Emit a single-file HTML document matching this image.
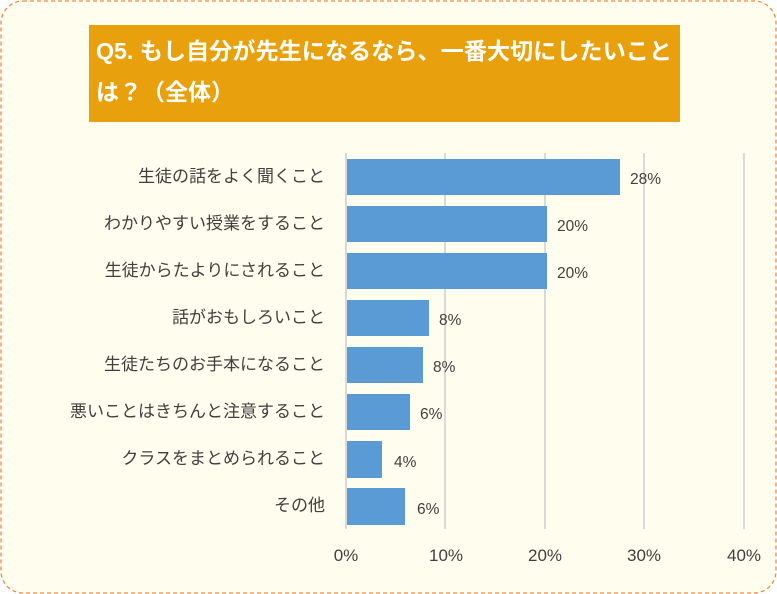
<!DOCTYPE html>
<html><head><meta charset="utf-8"><style>
body{margin:0;background:#fff;}
svg{display:block;}
text{font-family:"Liberation Sans","Noto Sans CJK JP",sans-serif;}
</style></head><body>
<svg width="777" height="594" xmlns="http://www.w3.org/2000/svg">
<rect x="1" y="1" width="775" height="592" rx="22" fill="#fffdee" stroke="#f08a40" stroke-width="1.3" stroke-dasharray="4,3"/>
<rect x="89" y="25" width="591" height="97" fill="#e8a00c"/>
<text x="96" y="59" font-size="23" font-weight="bold" fill="#fff" textLength="576" lengthAdjust="spacingAndGlyphs">Q5. もし自分が先生になるなら、一番大切にしたいこと</text>
<text x="96" y="100" font-size="23" font-weight="bold" fill="#fff">は？（全体）</text>
<g stroke="#d9d9d9" stroke-width="2">
<line x1="346" y1="153" x2="346" y2="529"/><line x1="445" y1="153" x2="445" y2="529"/>
<line x1="545" y1="153" x2="545" y2="529"/><line x1="644" y1="153" x2="644" y2="529"/>
<line x1="744" y1="153" x2="744" y2="529"/>
</g>
<g fill="#5b9bd5">
<rect x="347" y="159" width="273" height="36"/>
<rect x="347" y="206" width="200" height="36"/>
<rect x="347" y="253" width="200" height="36"/>
<rect x="347" y="300" width="82" height="36"/>
<rect x="347" y="347" width="76" height="36"/>
<rect x="347" y="394" width="63" height="36"/>
<rect x="347" y="441" width="35" height="37"/>
<rect x="347" y="488" width="58" height="37"/>
</g>
<g font-size="15.5" fill="#404040">
<text x="630" y="184">28%</text><text x="557" y="231">20%</text><text x="557" y="278">20%</text>
<text x="439" y="325">8%</text><text x="433" y="372">8%</text><text x="420" y="419">6%</text>
<text x="394" y="467">4%</text><text x="417" y="514">6%</text>
</g>
<g font-size="17" fill="#404040" text-anchor="end">
<text x="325" y="182">生徒の話をよく聞くこと</text>
<text x="325" y="229">わかりやすい授業をすること</text>
<text x="325" y="276">生徒からたよりにされること</text>
<text x="325" y="323">話がおもしろいこと</text>
<text x="325" y="370">生徒たちのお手本になること</text>
<text x="325" y="417">悪いことはきちんと注意すること</text>
<text x="325" y="464">クラスをまとめられること</text>
<text x="325" y="511">その他</text>
</g>
<g font-size="17" fill="#404040" text-anchor="middle">
<text x="346" y="561">0%</text><text x="446" y="561">10%</text><text x="545" y="561">20%</text>
<text x="644" y="561">30%</text><text x="744" y="561">40%</text>
</g>
</svg>
</body></html>
